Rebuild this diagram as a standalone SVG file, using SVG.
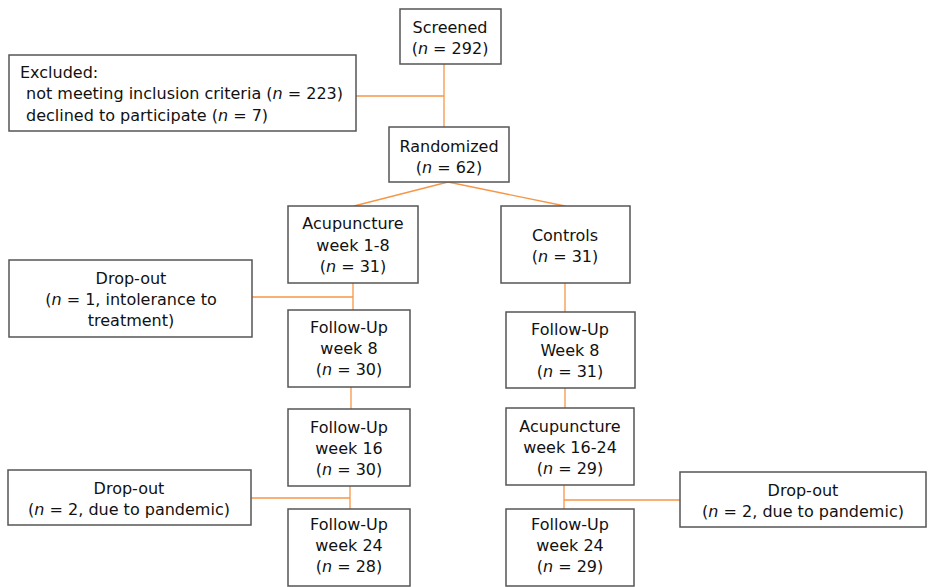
<svg xmlns="http://www.w3.org/2000/svg" width="929" height="587" viewBox="0 0 929 587">
<style>
.box{fill:#fff;stroke:#555;stroke-width:1.5}
.t{font-family:"DejaVu Sans","Liberation Sans",sans-serif;font-size:16px;fill:#111}
.c{text-anchor:middle}
.i{font-style:italic}
.ln{stroke:#F79646;stroke-width:1.3;fill:none}
</style>
<rect width="929" height="587" fill="#fff"/>
<g id="connectors">
<line class="ln" x1="444" y1="64" x2="444" y2="127"/>
<line class="ln" x1="356" y1="96" x2="444" y2="96"/>
<line class="ln" x1="448" y1="182" x2="354" y2="206"/>
<line class="ln" x1="448" y1="182" x2="565" y2="206"/>
<line class="ln" x1="353" y1="283" x2="353" y2="310"/>
<line class="ln" x1="252" y1="297" x2="353" y2="297"/>
<line class="ln" x1="565" y1="283" x2="565" y2="312"/>
<line class="ln" x1="351" y1="387" x2="351" y2="409"/>
<line class="ln" x1="565" y1="388" x2="565" y2="408"/>
<line class="ln" x1="350" y1="486" x2="350" y2="509"/>
<line class="ln" x1="251" y1="498" x2="350" y2="498"/>
<line class="ln" x1="564" y1="485" x2="564" y2="509"/>
<line class="ln" x1="564" y1="500" x2="680" y2="500"/>
</g>
<g id="screened">
<rect class="box" x="400" y="9" width="101" height="55"/>
<text class="t c" x="450" y="33">Screened</text>
<text class="t c" x="450" y="54">(<tspan class="i">n</tspan> = 292)</text>
</g>
<g id="excluded">
<rect class="box" x="9" y="55" width="347" height="76"/>
<text class="t" x="20" y="78">Excluded:</text>
<text class="t" x="26" y="99">not meeting inclusion criteria (<tspan class="i">n</tspan> = 223)</text>
<text class="t" x="26" y="121">declined to participate (<tspan class="i">n</tspan> = 7)</text>
</g>
<g id="randomized">
<rect class="box" x="389" y="127" width="120" height="55"/>
<text class="t c" x="449" y="152">Randomized</text>
<text class="t c" x="449" y="173">(<tspan class="i">n</tspan> = 62)</text>
</g>
<g id="acupuncture1">
<rect class="box" x="288" y="206" width="130" height="77"/>
<text class="t c" x="353" y="229">Acupuncture</text>
<text class="t c" x="353" y="251">week 1-8</text>
<text class="t c" x="353" y="272">(<tspan class="i">n</tspan> = 31)</text>
</g>
<g id="dropout1">
<rect class="box" x="9" y="260" width="243" height="77"/>
<text class="t c" x="131" y="284">Drop-out</text>
<text class="t c" x="131" y="305">(<tspan class="i">n</tspan> = 1, intolerance to</text>
<text class="t c" x="131" y="326">treatment)</text>
</g>
<g id="controls">
<rect class="box" x="501" y="206" width="129" height="77"/>
<text class="t c" x="565" y="241">Controls</text>
<text class="t c" x="565" y="262">(<tspan class="i">n</tspan> = 31)</text>
</g>
<g id="followup8a">
<rect class="box" x="288" y="310" width="122" height="77"/>
<text class="t c" x="349" y="333">Follow-Up</text>
<text class="t c" x="349" y="354">week 8</text>
<text class="t c" x="349" y="375">(<tspan class="i">n</tspan> = 30)</text>
</g>
<g id="followup8b">
<rect class="box" x="506" y="312" width="129" height="76"/>
<text class="t c" x="570" y="335">Follow-Up</text>
<text class="t c" x="570" y="356">Week 8</text>
<text class="t c" x="570" y="377">(<tspan class="i">n</tspan> = 31)</text>
</g>
<g id="followup16a">
<rect class="box" x="288" y="409" width="122" height="77"/>
<text class="t c" x="349" y="433">Follow-Up</text>
<text class="t c" x="349" y="454">week 16</text>
<text class="t c" x="349" y="475">(<tspan class="i">n</tspan> = 30)</text>
</g>
<g id="acupuncture2">
<rect class="box" x="506" y="408" width="128" height="77"/>
<text class="t c" x="570" y="432">Acupuncture</text>
<text class="t c" x="570" y="453">week 16-24</text>
<text class="t c" x="570" y="474">(<tspan class="i">n</tspan> = 29)</text>
</g>
<g id="dropout2">
<rect class="box" x="8" y="470" width="243" height="55"/>
<text class="t c" x="129" y="494">Drop-out</text>
<text class="t c" x="129" y="515">(<tspan class="i">n</tspan> = 2, due to pandemic)</text>
</g>
<g id="dropout3">
<rect class="box" x="680" y="472" width="246" height="55"/>
<text class="t c" x="803" y="496">Drop-out</text>
<text class="t c" x="803" y="517">(<tspan class="i">n</tspan> = 2, due to pandemic)</text>
</g>
<g id="followup24a">
<rect class="box" x="288" y="509" width="122" height="77"/>
<text class="t c" x="349" y="530">Follow-Up</text>
<text class="t c" x="349" y="551">week 24</text>
<text class="t c" x="349" y="572">(<tspan class="i">n</tspan> = 28)</text>
</g>
<g id="followup24b">
<rect class="box" x="506" y="509" width="128" height="77"/>
<text class="t c" x="570" y="530">Follow-Up</text>
<text class="t c" x="570" y="551">week 24</text>
<text class="t c" x="570" y="572">(<tspan class="i">n</tspan> = 29)</text>
</g>
</svg>
